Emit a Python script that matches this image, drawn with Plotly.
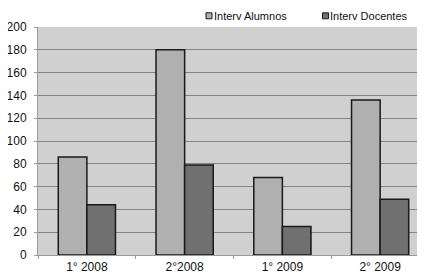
import plotly.graph_objects as go

categories = ["1° 2008", "2°2008", "1° 2009", "2° 2009"]
alumnos = [86, 180, 68, 136]
docentes = [44, 79, 25, 49]
y_ticks = list(range(0, 201, 20))
series_names = ["Interv Alumnos", "Interv Docentes"]
series_colors = ["#b0b0b0", "#707070"]

# page body adds an 8px offset; figure coords below are picture coords - 8
L, T, R, B = 30, 19, 4, 26
W, H = 425, 273
PW, PH = W - L - R, H - T - B

def px(x):
    return (x - 8 - L) / PW

def py(y):
    return 1 + (T - (y - 8)) / PH

fig = go.Figure()
for name, vals, col in zip(series_names, [alumnos, docentes], series_colors):
    fig.add_trace(go.Bar(x=categories, y=vals, name=name,
                         marker=dict(color=col, line=dict(color="#1a1a1a", width=1.5))))

# legend (drawn as shapes + text to match the compact original legend)
legend_sq = [(206, 212), (322.5, 328.5)]
legend_tx = [211.5, 327.5]
for (x0, x1), tx, name, col in zip(legend_sq, legend_tx, series_names, series_colors):
    fig.add_shape(type="rect", xref="paper", yref="paper",
                  x0=px(x0), x1=px(x1), y0=py(18.8), y1=py(12.8),
                  fillcolor=col, line=dict(color="#1a1a1a", width=1))
    fig.add_annotation(text=name, xref="paper", yref="paper", x=px(tx), y=py(15.7),
                       xanchor="left", yanchor="middle", showarrow=False,
                       font=dict(size=11, color="#111"))

fig.update_layout(
    width=W, height=H,
    margin=dict(l=L, r=R, t=T, b=B, autoexpand=False),
    paper_bgcolor="white", plot_bgcolor="#d0d0d0",
    barmode="group", bargap=0.415, bargroupgap=0,
    font=dict(family="Liberation Sans, Arial", size=12, color="#111"),
    showlegend=False,
)
fig.update_xaxes(range=[-0.5, 3.5], showline=True, linecolor="#999", linewidth=1,
                 ticks="outside", tickson="boundaries", ticklen=3, tickcolor="#999",
                 showgrid=False, tickfont=dict(size=12), ticklabelstandoff=1)
fig.update_yaxes(range=[0, 200], tickvals=y_ticks, showgrid=True, gridcolor="#858585",
                 gridwidth=1, showline=True, linecolor="#999", linewidth=1,
                 ticks="outside", ticklen=3, tickcolor="#999", zeroline=False,
                 tickfont=dict(size=12), ticklabelstandoff=5)

fig.write_html("out.html")
